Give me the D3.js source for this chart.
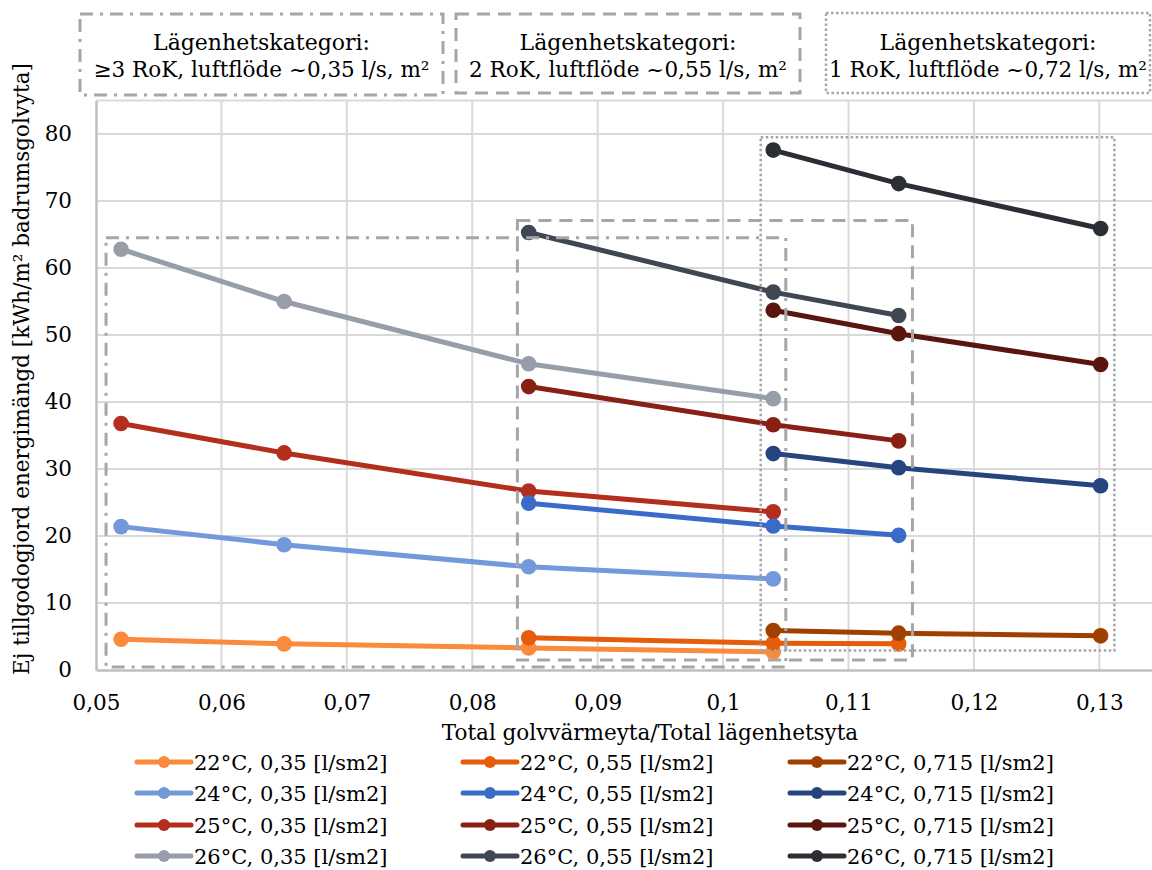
<!DOCTYPE html>
<html>
<head>
<meta charset="utf-8">
<script src="https://cdn.jsdelivr.net/npm/d3@7"></script>
<style>
  body { margin: 0; background: #fff; }
  svg { display: block; font-family: "DejaVu Serif", serif; }
</style>
</head>
<body>
<div id="chart"></div>
<script>
//Datos
const temps = ['22°C', '24°C', '25°C', '26°C'];
const flows = ['0,35', '0,55', '0,715'];

//Ejes X por categoría de caudal
const x035 = [0.052, 0.065, 0.0845, 0.104];
const x055 = [0.0845, 0.104, 0.114];
const x0715 = [0.104, 0.114, 0.1301];

//Valores por serie
const t22_035 = [4.6, 3.9, 3.3, 2.7];
const t24_035 = [21.4, 18.7, 15.4, 13.6];
const t25_035 = [36.8, 32.4, 26.7, 23.6];
const t26_035 = [62.8, 55.0, 45.7, 40.5];

const t22_055 = [4.8, 4.0, 3.9];
const t24_055 = [24.9, 21.5, 20.1];
const t25_055 = [42.3, 36.6, 34.2];
const t26_055 = [65.3, 56.4, 52.9];

const t22_0715 = [5.9, 5.5, 5.1];
const t24_0715 = [32.3, 30.2, 27.5];
const t25_0715 = [53.7, 50.2, 45.6];
const t26_0715 = [77.6, 72.6, 65.9];

//Ticks
const xTicks = [0.05, 0.06, 0.07, 0.08, 0.09, 0.10, 0.11, 0.12, 0.13];
const yTicks = [0, 10, 20, 30, 40, 50, 60, 70, 80];

//Recuadros de categoría (en unidades de datos): [x0, x1, y0, y1]
const box3RoK = [0.0508, 0.1050, 0.45, 64.5];
const box2RoK = [0.0836, 0.1151, 1.5, 67.1];
const box1RoK = [0.1030, 0.1312, 2.9, 79.5];

const boxTitles = ['Lägenhetskategori:', 'Lägenhetskategori:', 'Lägenhetskategori:'];
const boxSubtitles = ['≥3 RoK, luftflöde ~0,35 l/s, m²', '2 RoK, luftflöde ~0,55 l/s, m²', '1 RoK, luftflöde ~0,72 l/s, m²'];

//Colores fijos
const COLORS = {
    '22°C': ['#FA8A3C', '#E65C0A', '#A04000'],
    '24°C': ['#7399DA', '#3A6BC8', '#25457F'],
    '25°C': ['#B42E1E', '#882016', '#5A150E'],
    '26°C': ['#979DA9', '#414752', '#2B2E34']
};
const GRID = '#D9D9D9', AXIS = '#BFBFBF', BOX = '#A6A6A6';

const valores = {
    '22°C': [t22_035, t22_055, t22_0715],
    '24°C': [t24_035, t24_055, t24_0715],
    '25°C': [t25_035, t25_055, t25_0715],
    '26°C': [t26_035, t26_055, t26_0715]
};
const xs = [x035, x055, x0715];

let width = 1152, height = 870;
let svg = d3.select('#chart').append('svg')
    .attr('width', width)
    .attr('height', height);

let x = d3.scaleLinear().domain([0.05, 0.1342]).range([96, 1152]);
let y = d3.scaleLinear().domain([0, 85]).range([670, 100.5]);
let fmt = function(d) { return d3.format('.2~f')(d).replace('.', ','); };

//Rejilla
svg.append('g').selectAll('line').data(yTicks.slice(1).concat([85])).enter().append('line')
    .attr('x1', x(0.05)).attr('x2', width)
    .attr('y1', function(d) { return y(d); }).attr('y2', function(d) { return y(d); })
    .attr('stroke', GRID).attr('stroke-width', 2);

svg.append('g').selectAll('line').data(xTicks.slice(1)).enter().append('line')
    .attr('y1', y(0)).attr('y2', y(85))
    .attr('x1', function(d) { return x(d); }).attr('x2', function(d) { return x(d); })
    .attr('stroke', GRID).attr('stroke-width', 2);

//Ejes
let xAxis = svg.append('g')
    .attr('transform', 'translate(0,' + y(0) + ')')
    .call(d3.axisBottom(x).tickValues(xTicks).tickFormat(fmt).tickSize(0).tickPadding(25));
xAxis.select('.domain').attr('stroke', AXIS).attr('stroke-width', 2.5);
xAxis.selectAll('text').attr('font-size', 21.5).attr('font-family', '"DejaVu Serif", serif').attr('fill', '#000');

let yAxis = svg.append('g')
    .attr('transform', 'translate(' + x(0.05) + ',0)')
    .call(d3.axisLeft(y).tickValues(yTicks).tickFormat(fmt).tickSize(0).tickPadding(24));
yAxis.select('.domain').attr('stroke', AXIS).attr('stroke-width', 2.5);
yAxis.selectAll('text').attr('font-size', 21.5).attr('font-family', '"DejaVu Serif", serif').attr('fill', '#000');

//Series
let line = d3.line().x(function(d) { return x(d[0]); }).y(function(d) { return y(d[1]); });
flows.forEach(function(f, fi) {
    temps.forEach(function(t) {
        let pts = xs[fi].map(function(xv, i) { return [xv, valores[t][fi][i]]; });
        let g = svg.append('g').attr('class', 'serie');
        g.append('path').datum(pts)
            .attr('d', line)
            .attr('fill', 'none')
            .attr('stroke', COLORS[t][fi])
            .attr('stroke-width', 5);
        g.selectAll('circle').data(pts).enter().append('circle')
            .attr('cx', function(d) { return x(d[0]); })
            .attr('cy', function(d) { return y(d[1]); })
            .attr('r', 7.8)
            .attr('fill', COLORS[t][fi]);
    });
});

//Recuadros de categoría
function drawBox(b, dash, w) {
    svg.append('rect')
        .attr('x', x(b[0])).attr('y', y(b[3]))
        .attr('width', x(b[1]) - x(b[0])).attr('height', y(b[2]) - y(b[3]))
        .attr('fill', 'none').attr('stroke', BOX)
        .attr('stroke-width', w).attr('stroke-dasharray', dash);
}
drawBox(box3RoK, '13,7,3,7', 3);
drawBox(box2RoK, '13,8', 3);
drawBox(box1RoK, '2.5,2.5', 2.5);

//Leyendas superiores
let headers = [
    {x0: 80, x1: 443, y0: 14, y1: 95, dash: '13,7,3,7', w: 3},
    {x0: 456, x1: 800, y0: 14, y1: 93, dash: '13,8', w: 3},
    {x0: 826, x1: 1150, y0: 13, y1: 93, dash: '2.5,2.5', w: 2.5}
];
headers.forEach(function(h, i) {
    svg.append('rect')
        .attr('x', h.x0).attr('y', h.y0)
        .attr('width', h.x1 - h.x0).attr('height', h.y1 - h.y0)
        .attr('fill', '#fff').attr('stroke', BOX)
        .attr('stroke-width', h.w).attr('stroke-dasharray', h.dash);
    let cx = (h.x0 + h.x1) / 2;
    svg.append('text').attr('x', cx).attr('y', 50)
        .attr('text-anchor', 'middle').attr('font-size', 22).text(boxTitles[i]);
    svg.append('text').attr('x', cx).attr('y', 77)
        .attr('text-anchor', 'middle').attr('font-size', 21.5).text(boxSubtitles[i]);
});

//Títulos de ejes
svg.append('text')
    .attr('x', 650).attr('y', 740)
    .attr('text-anchor', 'middle').attr('font-size', 21.5)
    .text('Total golvvärmeyta/Total lägenhetsyta');

svg.append('text')
    .attr('transform', 'translate(29,369) rotate(-90)')
    .attr('text-anchor', 'middle').attr('font-size', 21.5)
    .text('Ej tillgodogjord energimängd [kWh/m² badrumsgolvyta]');

//Leyenda inferior
let colX = [137, 463, 790];
let rowY = [762, 793, 825, 856];
temps.forEach(function(t, ti) {
    flows.forEach(function(f, fi) {
        let g = svg.append('g').attr('transform', 'translate(' + colX[fi] + ',' + rowY[ti] + ')');
        g.append('line').attr('x1', 0).attr('x2', 54).attr('y1', 0).attr('y2', 0)
            .attr('stroke', COLORS[t][fi]).attr('stroke-width', 5).attr('stroke-linecap', 'round');
        g.append('circle').attr('cx', 27).attr('cy', 0).attr('r', 6).attr('fill', COLORS[t][fi]);
        g.append('text').attr('x', 57).attr('y', 7.5).attr('font-size', 21)
            .text(t + ', ' + f + ' [l/sm2]');
    });
});
</script>
</body>
</html>
